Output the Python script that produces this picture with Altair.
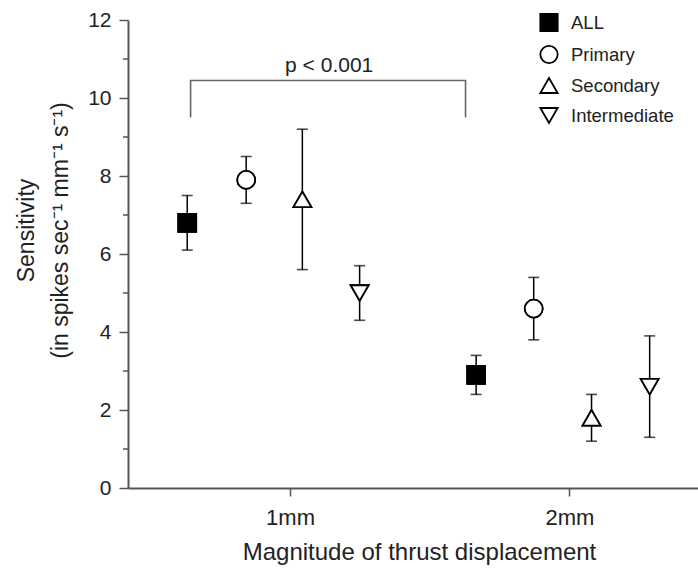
import altair as alt
import pandas as pd

# ---- data ----
types = ["ALL", "Primary", "Secondary", "Intermediate"]
group = ["1mm", "1mm", "1mm", "1mm", "2mm", "2mm", "2mm", "2mm"]
cell_type = ["ALL", "Primary", "Secondary", "Intermediate",
             "ALL", "Primary", "Secondary", "Intermediate"]
x_pos = [0.632, 0.843, 1.044, 1.249, 1.666, 1.872, 2.079, 2.287]
mean_val = [6.8, 7.9, 7.4, 5.0, 2.9, 4.6, 1.8, 2.6]
low_val = [6.1, 7.3, 5.6, 4.3, 2.4, 3.8, 1.2, 1.3]
high_val = [7.5, 8.5, 9.2, 5.7, 3.4, 5.4, 2.4, 3.9]

x_ticks = [1, 2]
y_ticks = [0, 2, 4, 6, 8, 10, 12]
y_minor = [1, 3, 5, 7, 9, 11]

bracket_x = [0.644, 0.644, 1.628, 1.628]
bracket_y = [9.5, 10.45, 10.45, 9.5]
p_text = "p < 0.001"
p_x = [1.14]
p_y = [10.67]

shapes = ["square", "circle", "triangle-up", "triangle-down"]
fills = ["black", "white", "white", "white"]

FONT = "Liberation Sans"
TXT = "#222222"
AX = "#555555"

df = pd.DataFrame({"group": group, "type": cell_type, "x": x_pos,
                   "mean": mean_val, "lo": low_val, "hi": high_val})
br = pd.DataFrame({"x": bracket_x, "y": bracket_y, "o": list(range(len(bracket_x)))})
minor = pd.DataFrame({"m": y_minor})
ptxt = pd.DataFrame({"x": p_x, "y": p_y})

xs = alt.Scale(domain=[0.42, 2.46], nice=False, zero=False)
ys = alt.Scale(domain=[0, 12], nice=False, zero=False)

x_axis = alt.Axis(values=x_ticks, labelExpr="datum.value + 'mm'",
                  title="Magnitude of thrust displacement", grid=False,
                  labelFont=FONT, labelFontSize=22, labelColor=TXT, labelPadding=11,
                  titleFont=FONT, titleFontSize=24, titleFontWeight="normal",
                  titleColor=TXT, titlePadding=12, titleX=291,
                  tickSize=8, tickColor=AX, tickWidth=1.5,
                  domainColor=AX, domainWidth=2)
y_axis = alt.Axis(values=y_ticks, grid=False,
                  title=["Sensitivity", "(in spikes sec\u207b\u00b9 mm\u207b\u00b9 s\u207b\u00b9)"],
                  labelFont=FONT, labelFontSize=21, labelColor=TXT, labelPadding=8,
                  titleFont=FONT, titleFontSize=23, titleFontWeight="normal",
                  titleColor=TXT, titlePadding=15, titleLineHeight=34, titleY=210,
                  tickSize=9, tickColor=AX, tickWidth=1.5,
                  domainColor=AX, domainWidth=2)

base = alt.Chart(df)

leg = alt.Legend(title=None, orient="none", legendX=411, legendY=-7.5,
                 labelFont=FONT, labelFontSize=18.5, labelColor=TXT,
                 symbolSize=300, symbolStrokeWidth=1.8,
                 symbolOpacity=1,
                 rowPadding=6, labelOffset=12, padding=0)


def point_layer():
    return base.mark_point(filled=True, stroke="black", strokeWidth=1.8,
                           size=320, opacity=1).encode(
        x=alt.X("x:Q", scale=xs, axis=x_axis),
        y=alt.Y("mean:Q", scale=ys, axis=y_axis),
        shape=alt.Shape("type:N", scale=alt.Scale(domain=types, range=shapes), legend=leg),
        fill=alt.Fill("type:N", scale=alt.Scale(domain=types, range=fills), legend=leg),
    )


err = base.mark_rule(color="black", strokeWidth=1.5).encode(
    x=alt.X("x:Q", scale=xs, axis=x_axis),
    y=alt.Y("lo:Q", scale=ys, axis=y_axis),
    y2="hi:Q",
)
cap_hi = base.mark_tick(orient="horizontal", size=11, thickness=1.6, color="black").encode(
    x=alt.X("x:Q", scale=xs, axis=x_axis), y=alt.Y("hi:Q", scale=ys, axis=y_axis))
cap_lo = base.mark_tick(orient="horizontal", size=11, thickness=1.6, color="black").encode(
    x=alt.X("x:Q", scale=xs, axis=x_axis), y=alt.Y("lo:Q", scale=ys, axis=y_axis))

minor_ticks = alt.Chart(minor).mark_rule(color=AX, strokeWidth=1.5).encode(
    x=alt.value(-5), x2=alt.value(0),
    y=alt.Y("m:Q", scale=ys, axis=y_axis),
)

bracket = alt.Chart(br).mark_line(color="#666666", strokeWidth=1.6).encode(
    x=alt.X("x:Q", scale=xs, axis=x_axis), y=alt.Y("y:Q", scale=ys, axis=y_axis), order="o:Q")

ptext = alt.Chart(ptxt).mark_text(text=p_text, font=FONT, fontSize=21, color=TXT,
                                  align="center", baseline="alphabetic").encode(
    x=alt.X("x:Q", scale=xs, axis=x_axis), y=alt.Y("y:Q", scale=ys, axis=y_axis))

chart = alt.layer(point_layer(), err, cap_hi, cap_lo, minor_ticks, bracket, ptext,
                  point_layer()).properties(
    width=570, height=468,
    autosize=alt.AutoSizeParams(type="none"),
    padding={"left": 128, "top": 20, "right": 0, "bottom": 80},
    background="white",
).configure_view(stroke=None)

chart.save("out.html", embed_options={"renderer": "svg", "actions": False})
